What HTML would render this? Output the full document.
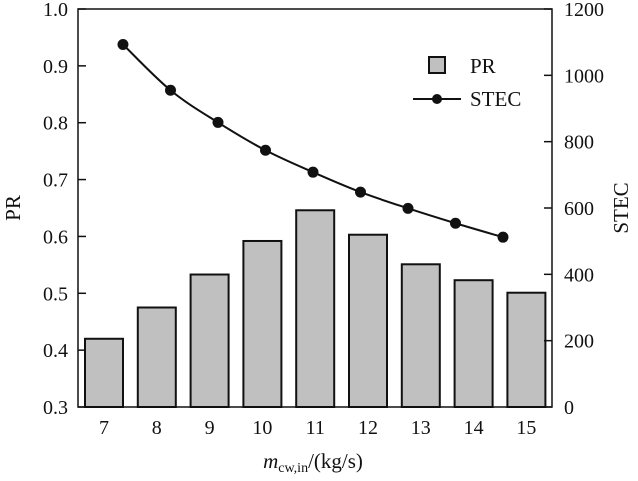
<!DOCTYPE html>
<html><head><meta charset="utf-8"><style>
html,body{margin:0;padding:0;background:#fff;}
svg text{font-family:"Liberation Serif",serif;fill:#111;}
</style></head><body>
<svg id="chart" width="638" height="476" xmlns="http://www.w3.org/2000/svg">
<g id="bars"></g>
<g id="line"></g>
<g id="axes"></g>
<g>
<rect x="429" y="57" width="16" height="16" fill="#c0c0c0" stroke="#111" stroke-width="2"/>
<text x="470" y="73" font-size="21">PR</text>
<line x1="413" y1="99" x2="461" y2="99" stroke="#111" stroke-width="2"/>
<circle cx="437" cy="99" r="5" fill="#111"/>
<text x="470" y="106" font-size="21">STEC</text>
</g>
<text x="313" y="468" font-size="21" text-anchor="middle"><tspan font-style="italic">m</tspan><tspan font-size="14" dy="4">cw,in</tspan><tspan dy="-4">/(kg/s)</tspan></text>
<text transform="translate(20,208) rotate(-90)" font-size="21" text-anchor="middle">PR</text>
<text transform="translate(628,208) rotate(-90)" font-size="21" text-anchor="middle">STEC</text>
</svg>
<script>
const categories=[7,8,9,10,11,12,13,14,15];
const prValues=[0.42,0.475,0.533,0.592,0.646,0.603,0.551,0.523,0.501];
const stecValues=[1093,955,858,774,708,648,599,554,512];
const leftTicks=[0.3,0.4,0.5,0.6,0.7,0.8,0.9,1.0];
const rightTicks=[0,200,400,600,800,1000,1200];
const L=78,R=552,T=9,B=407;
const NS="http://www.w3.org/2000/svg";
const xS=i=>104+i*52.8;
const xLine=i=>123+i*47.5;
const yL=v=>B-(v-0.3)/0.7*(B-T);
const yR=v=>B-v/1200*(B-T);
function mk(tag,attrs,parent){const e=document.createElementNS(NS,tag);for(const k in attrs)e.setAttribute(k,attrs[k]);parent.appendChild(e);return e;}
const bars=document.getElementById('bars'),line=document.getElementById('line'),axes=document.getElementById('axes');
categories.forEach((c,i)=>{
 const y=yL(prValues[i]);
 const r=mk('rect',{x:xS(i)-19,y:y,width:38,height:B-y,fill:'#c0c0c0',stroke:'#111','stroke-width':2},bars);
 
 
 const t=mk('text',{x:xS(i),y:B+27,'font-size':20,'text-anchor':'middle'},axes);
 t.textContent=c;
 
 
});
const pts=stecValues.map((v,i)=>[xLine(i),yR(v)]);
let d='M'+pts[0][0]+','+pts[0][1];
for(let i=0;i<pts.length-1;i++){
 const p0=pts[Math.max(0,i-1)],p1=pts[i],p2=pts[i+1],p3=pts[Math.min(pts.length-1,i+2)];
 const c1x=p1[0]+(p2[0]-p0[0])/6,c1y=p1[1]+(p2[1]-p0[1])/6;
 const c2x=p2[0]-(p3[0]-p1[0])/6,c2y=p2[1]-(p3[1]-p1[1])/6;
 d+=' C'+c1x+','+c1y+' '+c2x+','+c2y+' '+p2[0]+','+p2[1];
}
const p=mk('path',{d:d,fill:'none',stroke:'#111','stroke-width':2},line);


pts.forEach(q=>{
 const c=mk('circle',{cx:q[0],cy:q[1],r:5.5,fill:'#111'},line);
 
 
});
const fr=mk('rect',{x:L,y:T,width:R-L,height:B-T,fill:'none',stroke:'#111','stroke-width':1.5},axes);


leftTicks.forEach(v=>{
 const y=yL(v);
 const l=mk('line',{x1:L,y1:y,x2:L+8,y2:y,stroke:'#111','stroke-width':1.5},axes);
 
 
 const t=mk('text',{x:L-10,y:y+7,'font-size':20,'text-anchor':'end'},axes);
 t.textContent=v.toFixed(1);
 
 
});
rightTicks.forEach(v=>{
 const y=yR(v);
 const l=mk('line',{x1:R-8,y1:y,x2:R,y2:y,stroke:'#111','stroke-width':1.5},axes);
 
 
 const t=mk('text',{x:R+12,y:y+7,'font-size':20,'text-anchor':'start'},axes);
 t.textContent=v;
 
 
});
</script>
</body></html>
